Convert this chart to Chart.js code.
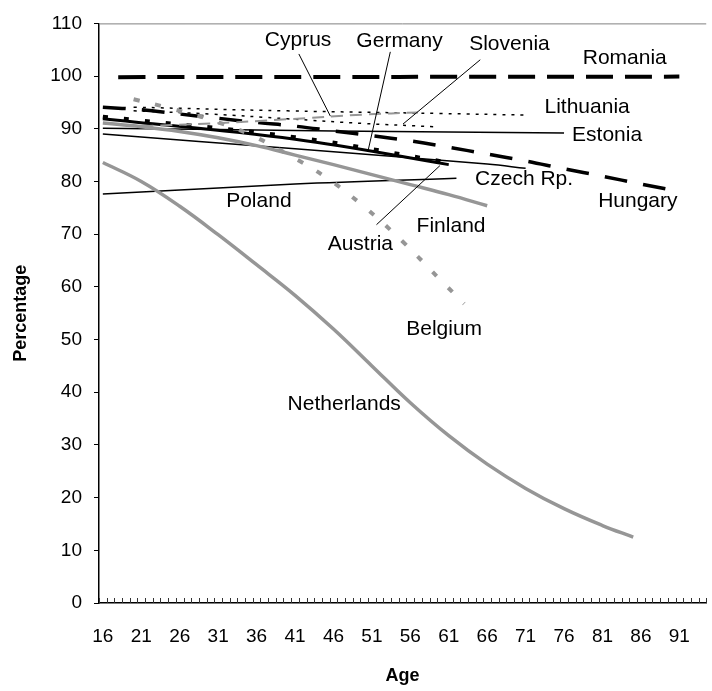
<!DOCTYPE html>
<html lang="en">
<head>
<meta charset="UTF-8">
<title>Percentage by Age</title>
<script src="https://cdn.jsdelivr.net/npm/chart.js"></script>
<style>
  html, body { margin: 0; padding: 0; background: #fff; }
  .wrap { position: relative; width: 712px; height: 691px; }
</style>
</head>
<body>
<div class="wrap"><canvas id="chart" width="712" height="691"></canvas></div>
<script>
// ages shown on the category axis
const ageLabels = [16, 21, 26, 31, 36, 41, 46, 51, 56, 61, 66, 71, 76, 81, 86, 91];
const yTicks = [0, 10, 20, 30, 40, 50, 60, 70, 80, 90, 100, 110];

// series
const romaniaAge = [18, 91];
const romaniaPct = [99.8, 99.9];
const lithuaniaAge = [20, 40, 60, 71];
const lithuaniaPct = [94.1, 93.4, 92.9, 92.6];
const sloveniaAge = [20, 30, 40, 50, 59];
const sloveniaPct = [93.4, 92.8, 91.9, 91.0, 90.4];
const cyprusAge = [21, 30, 40, 50, 57];
const cyprusPct = [90.5, 91.0, 91.8, 92.7, 93.1];
const hungaryAge = [16, 21, 26, 31, 36, 41, 46, 51, 56, 61, 66, 71, 76, 81, 86, 91];
const hungaryPct = [94.1, 93.6, 92.8, 92.0, 91.2, 90.5, 89.6, 88.7, 87.7, 86.5, 85.2, 83.9, 82.4, 81.0, 79.5, 78.1];
const germanyAge = [16, 41, 61];
const germanyPct = [92.3, 88.4, 83.6];
const austriaAge = [16, 41, 61];
const austriaPct = [91.9, 88.0, 83.2];
const estoniaAge = [16, 46, 76];
const estoniaPct = [90.1, 89.6, 89.2];
const czechAge = [16, 41, 66, 71];
const czechPct = [89.0, 86.2, 83.3, 82.5];
const polandAge = [16, 41, 62];
const polandPct = [77.6, 79.5, 80.6];
const finlandAge = [16, 21, 26, 31, 36, 41, 46, 51, 56, 61, 66];
const finlandPct = [91.1, 90.4, 89.5, 88.3, 86.8, 85.0, 83.2, 81.3, 79.4, 77.5, 75.4];
const belgiumAge = [20, 25, 30, 35, 40, 45, 50, 55, 60, 63];
const belgiumPct = [95.6, 93.8, 91.7, 89.0, 85.2, 80.8, 75.2, 68.6, 61.2, 56.8];
const netherlandsAge = [16, 21, 26, 31, 36, 41, 46, 51, 56, 61, 66, 71, 76, 81, 85];
const netherlandsPct = [83.6, 80.0, 75.3, 69.9, 64.2, 58.4, 52.0, 45.0, 38.0, 31.75, 26.35, 21.75, 17.9, 14.7, 12.5];

const FONT = "'Liberation Sans', Arial, sans-serif";
const GREY = '#969696';

function pts(ages, vals) {
  return ages.map((a, i) => ({ x: a, y: vals[i] }));
}

function series(label, ages, vals, color, width, dash) {
  return {
    label: label,
    data: pts(ages, vals),
    borderColor: color,
    borderWidth: width,
    borderDash: dash || [],
    borderCapStyle: 'butt',
    pointRadius: 0,
    fill: false,
    tension: 0.4
  };
}

// text boxes and leader lines, placed in data units
const notes = [
  { text: 'Cyprus', x: 41.4, y: 106.8 },
  { text: 'Germany', x: 54.6, y: 106.6 },
  { text: 'Slovenia', x: 68.9, y: 106.1 },
  { text: 'Romania', x: 83.9, y: 103.3 },
  { text: 'Lithuania', x: 79.0, y: 94.1 },
  { text: 'Estonia', x: 81.6, y: 88.8 },
  { text: 'Czech Rp.', x: 70.8, y: 80.4 },
  { text: 'Hungary', x: 85.6, y: 76.3 },
  { text: 'Poland', x: 36.3, y: 76.3 },
  { text: 'Finland', x: 61.3, y: 71.6 },
  { text: 'Austria', x: 49.5, y: 68.0 },
  { text: 'Belgium', x: 60.4, y: 51.9 },
  { text: 'Netherlands', x: 47.4, y: 37.7 }
];
const leaders = [
  [41.5, 104.2, 45.6, 92.4],
  [53.4, 104.6, 50.5, 85.8],
  [65.1, 103.1, 55.05, 90.9],
  [51.6, 71.8, 59.85, 83.0]
];

const extras = {
  id: 'extras',
  afterDatasetsDraw(chart) {
    const { ctx, chartArea, scales: { x, y } } = chart;
    ctx.save();
    // top frame line
    ctx.strokeStyle = '#808080';
    ctx.lineWidth = 1;
    ctx.beginPath();
    ctx.moveTo(chartArea.left, chartArea.top + 0.5);
    ctx.lineTo(chartArea.right, chartArea.top + 0.5);
    ctx.stroke();
    // small inward ticks between categories
    ctx.strokeStyle = '#333';
    ctx.beginPath();
    for (let a = 15.5; a <= 94.5; a++) {
      const px = Math.round(x.getPixelForValue(a)) + 0.5;
      ctx.moveTo(px, chartArea.bottom);
      ctx.lineTo(px, chartArea.bottom - 5);
    }
    ctx.stroke();
    // leaders
    ctx.strokeStyle = '#000';
    ctx.lineWidth = 1;
    leaders.forEach(l => {
      ctx.beginPath();
      ctx.moveTo(x.getPixelForValue(l[0]), y.getPixelForValue(l[1]));
      ctx.lineTo(x.getPixelForValue(l[2]), y.getPixelForValue(l[3]));
      ctx.stroke();
    });
    // labels
    ctx.fillStyle = '#000';
    ctx.font = '21px ' + FONT;
    ctx.textAlign = 'center';
    ctx.textBaseline = 'middle';
    notes.forEach(n => {
      ctx.fillText(n.text, x.getPixelForValue(n.x), y.getPixelForValue(n.y));
    });
    ctx.restore();
  }
};

new Chart(document.getElementById('chart'), {
  type: 'line',
  data: {
    datasets: [
      series('Netherlands', netherlandsAge, netherlandsPct, GREY, 3.5),
      series('Finland', finlandAge, finlandPct, GREY, 3.5),
      series('Belgium', belgiumAge, belgiumPct, GREY, 4, [6, 16]),
      series('Cyprus', cyprusAge, cyprusPct, GREY, 2, [12, 7]),
      series('Poland', polandAge, polandPct, '#000', 1.5),
      series('Czech Rp.', czechAge, czechPct, '#000', 1.5),
      series('Estonia', estoniaAge, estoniaPct, '#000', 1.5),
      series('Austria', austriaAge, austriaPct, '#000', 3),
      series('Germany', germanyAge, germanyPct, '#000', 4, [5, 16]),
      series('Slovenia', sloveniaAge, sloveniaPct, '#000', 1.5, [3, 6]),
      series('Lithuania', lithuaniaAge, lithuaniaPct, '#000', 1.5, [3, 6]),
      series('Hungary', hungaryAge, hungaryPct, '#000', 3.5, [23, 16]),
      series('Romania', romaniaAge, romaniaPct, '#000', 4, [27, 12])
    ]
  },
  options: {
    responsive: false,
    animation: false,
    layout: { padding: { top: 16, right: 2, left: 0, bottom: 0 } },
    plugins: {
      legend: { display: false },
      tooltip: { enabled: false }
    },
    scales: {
      x: {
        type: 'linear',
        min: 15.5,
        max: 94.5,
        afterBuildTicks: s => { s.ticks = ageLabels.map(v => ({ value: v })); },
        afterFit: s => { s.height = 88; },
        grid: { display: false, drawTicks: false },
        border: { display: true, color: '#000', width: 1.5 },
        ticks: {
          autoSkip: false,
          maxRotation: 0,
          padding: 22,
          color: '#000',
          font: { family: FONT, size: 19 },
          callback: v => String(v)
        },
        title: {
          display: true,
          text: 'Age',
          color: '#000',
          font: { family: FONT, size: 18, weight: 'bold' },
          padding: { top: 0, bottom: 4 }
        }
      },
      y: {
        min: 0,
        max: 110,
        afterBuildTicks: s => { s.ticks = yTicks.map(v => ({ value: v })); },
        afterFit: s => { s.width = 99; },
        grid: { drawOnChartArea: false, drawTicks: true, tickLength: 5, color: '#000' },
        border: { display: true, color: '#000', width: 1.5 },
        ticks: {
          padding: 12,
          color: '#000',
          font: { family: FONT, size: 19 }
        },
        title: {
          display: true,
          text: 'Percentage',
          color: '#000',
          font: { family: FONT, size: 18, weight: 'bold' },
          padding: { top: 10, bottom: 10 }
        }
      }
    }
  },
  plugins: [extras]
});
</script>
</body>
</html>
